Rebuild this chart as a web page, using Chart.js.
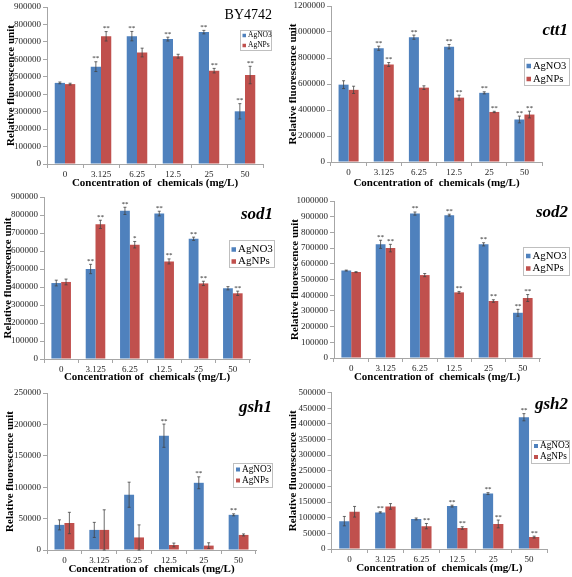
<!DOCTYPE html>
<html lang="en">
<head>
<meta charset="UTF-8">
<title>Relative fluorescence - AgNO3 vs AgNPs</title>
<script src="https://cdn.jsdelivr.net/npm/chart.js"></script>
<style>
  body { margin: 0; background: #fff; }
  #wrap { position: relative; width: 572px; height: 577px; overflow: hidden; }
  #wrap canvas { position: absolute; }
</style>
</head>
<body>
<div id="wrap"></div>

<script>
const categories = ["0", "3.125", "6.25", "12.5", "25", "50"];
const seriesNames = ["AgNO3", "AgNPs"];

// BY4742
const by4742Ticks = [0, 100000, 200000, 300000, 400000, 500000, 600000, 700000, 800000, 900000];
const by4742AgNO3 = [465000, 558000, 733000, 716000, 756000, 302000];
const by4742AgNPs = [458000, 732000, 639000, 618000, 535000, 510000];
const by4742AgNO3Sd = [5000, 28000, 27000, 11000, 10000, 44000];
const by4742AgNPsSd = [5000, 27000, 25000, 11000, 13000, 50000];
const by4742AgNO3Sig = ["", "**", "**", "**", "**", "**"];
const by4742AgNPsSig = ["", "**", "", "", "**", "**"];

// ctt1
const ctt1Ticks = [0, 200000, 400000, 600000, 800000, 1000000, 1200000];
const ctt1AgNO3 = [595000, 875000, 960000, 887000, 532000, 327000];
const ctt1AgNPs = [555000, 750000, 572000, 495000, 385000, 365000];
const ctt1AgNO3Sd = [30000, 16000, 16000, 17000, 8000, 26000];
const ctt1AgNPsSd = [28000, 15000, 14000, 19000, 5000, 26000];
const ctt1AgNO3Sig = ["", "**", "**", "**", "**", "**"];
const ctt1AgNPsSig = ["", "**", "", "**", "**", "**"];

// sod1
const sod1Ticks = [0, 100000, 200000, 300000, 400000, 500000, 600000, 700000, 800000, 900000];
const sod1AgNO3 = [422000, 500000, 823000, 808000, 668000, 393000];
const sod1AgNPs = [428000, 748000, 635000, 542000, 420000, 365000];
const sod1AgNO3Sd = [16000, 26000, 20000, 13000, 9000, 9000];
const sod1AgNPsSd = [16000, 23000, 18000, 14000, 12000, 12000];
const sod1AgNO3Sig = ["", "**", "**", "**", "**", ""];
const sod1AgNPsSig = ["", "**", "*", "**", "**", "**"];

// sod2
const sod2Ticks = [0, 100000, 200000, 300000, 400000, 500000, 600000, 700000, 800000, 900000, 1000000];
const sod2AgNO3 = [557000, 724000, 920000, 910000, 724000, 288000];
const sod2AgNPs = [547000, 700000, 528000, 418000, 363000, 382000];
const sod2AgNO3Sd = [3000, 26000, 10000, 6000, 10000, 22000];
const sod2AgNPsSd = [3000, 24000, 10000, 6000, 8000, 22000];
const sod2AgNO3Sig = ["", "**", "**", "**", "**", "**"];
const sod2AgNPsSig = ["", "**", "", "**", "**", "**"];

// gsh1
const gsh1Ticks = [0, 50000, 100000, 150000, 200000, 250000];
const gsh1AgNO3 = [40000, 32000, 88000, 182000, 107000, 56000];
const gsh1AgNPs = [43000, 32000, 20000, 8000, 7000, 24000];
const gsh1AgNO3Sd = [8000, 12000, 20000, 18500, 9500, 1600];
const gsh1AgNPsSd = [17000, 32000, 20000, 3000, 4500, 1600];
const gsh1AgNO3Sig = ["", "", "", "**", "**", "**"];
const gsh1AgNPsSig = ["", "", "", "", "", ""];

// gsh2
const gsh2Ticks = [0, 50000, 100000, 150000, 200000, 250000, 300000, 350000, 400000, 450000, 500000];
const gsh2AgNO3 = [89000, 117000, 96000, 137000, 177000, 421000];
const gsh2AgNPs = [119000, 136000, 73000, 67000, 80000, 38000];
const gsh2AgNO3Sd = [15000, 2000, 3000, 3000, 3000, 11500];
const gsh2AgNPsSd = [17000, 9000, 8500, 4000, 12500, 3000];
const gsh2AgNO3Sig = ["", "**", "", "**", "**", "**"];
const gsh2AgNPsSig = ["", "", "**", "**", "**", "**"];

Chart.defaults.font.family = '"Liberation Serif", "Times New Roman", serif';
Chart.defaults.color = '#262626';

const axisGrey = '#A6A6A6';
const barColours = ['#4F81BD', '#C0504D'];
const serif = '"Liberation Serif", "Times New Roman", serif';

// page positions of each panel (plot box, axis titles, name, legend)
const panels = [
  { name: 'BY4742', nameFont: '14px', ticks: by4742Ticks,
    values: [by4742AgNO3, by4742AgNPs], sd: [by4742AgNO3Sd, by4742AgNPsSd], sig: [by4742AgNO3Sig, by4742AgNPsSig],
    plot: { l: 47, t: 7, r: 263, b: 164 }, yTitleX: 11, xTitleY: 183, nameX: 272, nameY: 19,
    legend: { x: 239.5, y: 30, w: 31, h: 20, size: 7.5, mark: 3.5, rows: [35.5, 45.5] } },
  { name: 'ctt1', nameFont: 'italic bold 17px', ticks: ctt1Ticks,
    values: [ctt1AgNO3, ctt1AgNPs], sd: [ctt1AgNO3Sd, ctt1AgNPsSd], sig: [ctt1AgNO3Sig, ctt1AgNPsSig],
    plot: { l: 331, t: 6, r: 542, b: 162 }, yTitleX: 293, xTitleY: 183, nameX: 568, nameY: 35,
    legend: { x: 523.5, y: 57.5, w: 45, h: 26.5, size: 10.5, mark: 4.5, rows: [66, 79] } },
  { name: 'sod1', nameFont: 'italic bold 17px', ticks: sod1Ticks,
    values: [sod1AgNO3, sod1AgNPs], sd: [sod1AgNO3Sd, sod1AgNPsSd], sig: [sod1AgNO3Sig, sod1AgNPsSig],
    plot: { l: 44, t: 197, r: 250, b: 359 }, yTitleX: 8.5, xTitleY: 377.5, nameX: 273, nameY: 219,
    legend: { x: 228.5, y: 240, w: 45, h: 27, size: 11, mark: 4.5, rows: [249.5, 261.5] } },
  { name: 'sod2', nameFont: 'italic bold 17px', ticks: sod2Ticks,
    values: [sod2AgNO3, sod2AgNPs], sd: [sod2AgNO3Sd, sod2AgNPsSd], sig: [sod2AgNO3Sig, sod2AgNPsSig],
    plot: { l: 334, t: 201, r: 540, b: 358 }, yTitleX: 295, xTitleY: 377.3, nameX: 568, nameY: 216.5,
    legend: { x: 523, y: 246.5, w: 46, h: 27.5, size: 10.8, mark: 4.5, rows: [256, 268.5] } },
  { name: 'gsh1', nameFont: 'italic bold 17px', ticks: gsh1Ticks,
    values: [gsh1AgNO3, gsh1AgNPs], sd: [gsh1AgNO3Sd, gsh1AgNPsSd], sig: [gsh1AgNO3Sig, gsh1AgNPsSig],
    plot: { l: 47, t: 393, r: 256, b: 550 }, yTitleX: 10, xTitleY: 569, nameX: 272, nameY: 412,
    legend: { x: 233, y: 463, w: 39, h: 24, size: 9.3, mark: 4, rows: [469.5, 480.5] } },
  { name: 'gsh2', nameFont: 'italic bold 17px', ticks: gsh2Ticks,
    values: [gsh2AgNO3, gsh2AgNPs], sd: [gsh2AgNO3Sd, gsh2AgNPsSd], sig: [gsh2AgNO3Sig, gsh2AgNPsSig],
    plot: { l: 331.5, t: 392.5, r: 547, b: 549 }, yTitleX: 293.3, xTitleY: 568.3, nameX: 568, nameY: 409,
    legend: { x: 531, y: 440, w: 38, h: 23, size: 9.3, mark: 4, rows: [446, 457] } }
];

// SD whiskers + significance stars
const errorBars = {
  id: 'errorBars',
  afterDatasetsDraw(chart) {
    const ctx = chart.ctx;
    const yScale = chart.scales.y;
    ctx.save();
    chart.data.datasets.forEach((ds, i) => {
      chart.getDatasetMeta(i).data.forEach((bar, j) => {
        const v = ds.data[j], e = ds.sd[j];
        const top = yScale.getPixelForValue(v + e);
        const bot = yScale.getPixelForValue(Math.max(v - e, 0));
        ctx.strokeStyle = '#444';
        ctx.lineWidth = 0.8;
        ctx.beginPath();
        ctx.moveTo(bar.x, top); ctx.lineTo(bar.x, bot);
        ctx.moveTo(bar.x - 1.5, top); ctx.lineTo(bar.x + 1.5, top);
        ctx.moveTo(bar.x - 1.5, bot); ctx.lineTo(bar.x + 1.5, bot);
        ctx.stroke();
        if (ds.sig[j]) {
          ctx.fillStyle = '#222';
          ctx.font = '7px ' + serif;
          ctx.textAlign = 'center';
          ctx.textBaseline = 'alphabetic';
          ctx.fillText(ds.sig[j], bar.x, top - 1.5);
        }
      });
    });
    ctx.restore();
  }
};

// strain / gene name and boxed legend inside the plot
const panelDecor = {
  id: 'panelDecor',
  afterDraw(chart, args, o) {
    const ctx = chart.ctx;
    ctx.save();
    ctx.fillStyle = '#000';
    ctx.font = o.nameFont + ' ' + serif;
    ctx.textAlign = 'right';
    ctx.textBaseline = 'alphabetic';
    ctx.fillText(o.name, o.nameX, o.nameY);

    const lg = o.legend;
    ctx.strokeStyle = '#BFBFBF';
    ctx.lineWidth = 1;
    ctx.strokeRect(Math.round(lg.x) + 0.5, Math.round(lg.y) + 0.5, Math.round(lg.w), Math.round(lg.h));
    ctx.font = lg.size + 'px ' + serif;
    ctx.textAlign = 'left';
    ctx.textBaseline = 'middle';
    chart.data.datasets.forEach((ds, i) => {
      const yy = lg.rows[i];
      ctx.fillStyle = ds.backgroundColor;
      ctx.fillRect(lg.x + 3, yy - lg.mark / 2, lg.mark, lg.mark);
      ctx.fillStyle = '#000';
      ctx.fillText(ds.label, lg.x + 5 + lg.mark, yy);
    });
    ctx.restore();
  }
};

const wrap = document.getElementById('wrap');
const titleLine = 11 * 1.2;

panels.forEach(p => {
  const cx = Math.floor(p.yTitleX - 8);
  const cy = Math.floor(p.plot.t - 8);
  const right = Math.ceil(Math.max(p.plot.r, p.legend.x + p.legend.w, p.nameX) + 3);
  const bottom = Math.ceil(p.xTitleY + 8);

  const canvas = document.createElement('canvas');
  canvas.width = right - cx;
  canvas.height = bottom - cy;
  canvas.style.left = cx + 'px';
  canvas.style.top = cy + 'px';
  wrap.appendChild(canvas);

  const lg = p.legend;
  new Chart(canvas, {
    type: 'bar',
    data: {
      labels: categories,
      datasets: seriesNames.map((name, i) => ({
        label: name,
        data: p.values[i],
        sd: p.sd[i],
        sig: p.sig[i],
        backgroundColor: barColours[i],
        borderWidth: 0,
        categoryPercentage: 0.57,
        barPercentage: 1
      }))
    },
    options: {
      responsive: false,
      animation: false,
      events: [],
      layout: { padding: { left: 0, top: p.plot.t - cy, right: right - p.plot.r, bottom: 0 } },
      plugins: {
        legend: { display: false },
        tooltip: { enabled: false },
        panelDecor: {
          name: p.name, nameFont: p.nameFont, nameX: p.nameX - cx, nameY: p.nameY - cy,
          legend: { x: lg.x - cx, y: lg.y - cy, w: lg.w, h: lg.h, size: lg.size, mark: lg.mark,
                    rows: lg.rows.map(r => r - cy) }
        }
      },
      scales: {
        x: {
          offset: true,
          grid: { offset: true, drawOnChartArea: false, color: axisGrey, tickLength: 4 },
          border: { color: axisGrey },
          ticks: { font: { size: 9 }, color: '#262626', padding: 1, maxRotation: 0, autoSkip: false },
          title: {
            display: true, text: 'Concentration of  chemicals (mg/L)', color: '#000',
            font: { size: 11, weight: 'bold' },
            padding: { top: 0, bottom: bottom - p.xTitleY - titleLine / 2 }
          },
          afterFit: s => { s.height = bottom - p.plot.b; }
        },
        y: {
          min: p.ticks[0],
          max: p.ticks[p.ticks.length - 1],
          afterBuildTicks: s => { s.ticks = p.ticks.map(v => ({ value: v })); },
          grid: { drawOnChartArea: false, color: axisGrey, tickLength: 4 },
          border: { color: axisGrey },
          ticks: { font: { size: 9 }, color: '#262626', padding: 2, callback: v => String(v) },
          title: {
            display: true, text: 'Relative fluorescence unit', color: '#000',
            font: { size: 11, weight: 'bold' },
            padding: { top: p.yTitleX - cx - titleLine / 2, bottom: 0 }
          },
          afterFit: s => { s.width = p.plot.l - cx; }
        }
      }
    },
    plugins: [errorBars, panelDecor]
  });
});
</script>
</body>
</html>
